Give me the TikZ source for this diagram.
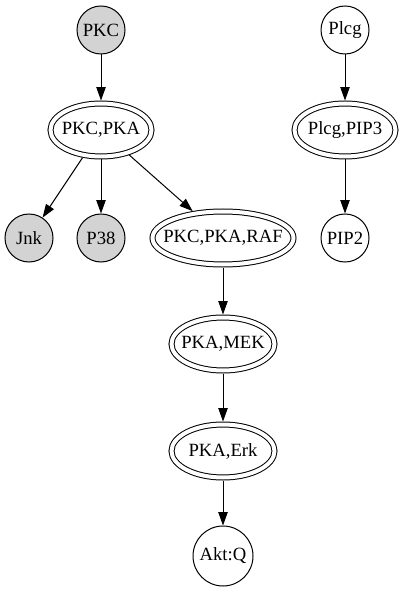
\documentclass[tikz,border=0pt]{standalone}
\usepackage{fontspec}
\setmainfont{Liberation Serif}
\usetikzlibrary{shapes.geometric,arrows.meta}
\begin{document}
\begin{tikzpicture}[x=0.75pt,y=-0.75pt,
  every node/.style={font=\fontsize{14pt}{16pt}\selectfont, inner sep=0pt},
  circ/.style={circle, draw, line width=0.75pt, minimum size=36pt},
  grayc/.style={circ, fill={rgb,255:red,211;green,211;blue,211}},
  dell/.style={ellipse, draw, line width=0.75pt, double=white, double distance=3pt, outer sep=2.25pt, inner xsep=-25pt, inner ysep=-6pt, minimum height=39.75pt},
  arr/.style={line width=0.75pt, -{Triangle[length=10pt,width=7pt]}}]
\useasboundingbox (0,0) rectangle (403,591);
\node[grayc] (pkc) at (101,30) {PKC};
\node[dell, minimum width=75.75pt] (pkcpka) at (101,130) {PKC,PKA};
\node[grayc] (jnk) at (29,238) {Jnk};
\node[grayc] (p38) at (101,238) {P38};
\node[dell, minimum width=105.75pt] (raf) at (223,238) {PKC,PKA,RAF};
\node[dell, minimum width=77.25pt] (mek) at (223,344) {PKA,MEK};
\node[dell, minimum width=77.25pt] (erk) at (223,451) {PKA,Erk};
\node[circ, minimum size=45pt] (akt) at (223,556) {Akt:Q};
\node[circ] (plcg) at (345,30) {Plcg};
\node[dell, minimum width=75.75pt] (pip3) at (345,130) {Plcg,PIP3};
\node[circ] (pip2) at (345,238) {PIP2};
\draw[arr] (pkc) -- (pkcpka);
\draw[arr] (pkcpka) -- (jnk);
\draw[arr] (pkcpka) -- (p38);
\draw[arr] (pkcpka) -- (raf);
\draw[arr] (raf) -- (mek);
\draw[arr] (mek) -- (erk);
\draw[arr] (erk) -- (akt);
\draw[arr] (plcg) -- (pip3);
\draw[arr] (pip3) -- (pip2);
\end{tikzpicture}
\end{document}
